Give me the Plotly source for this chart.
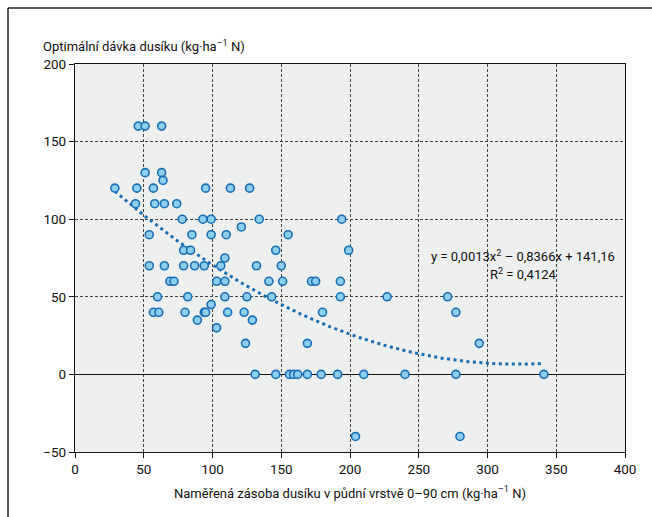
import numpy as np
import plotly.graph_objects as go

# Measured N supply (kg/ha) and optimal N dose (kg/ha)
supply = [46, 51, 63,
          51, 63, 64,
          29, 45, 57, 95, 113, 127,
          44, 58, 65, 74,
          78, 93, 99, 134, 194,
          121,
          54, 85, 99, 110, 155,
          79, 84, 146, 199,
          109,
          54, 65, 79, 87, 94, 106, 132, 150,
          69, 72, 103, 109, 141, 151, 172, 175, 193,
          60, 82, 109, 125, 143, 193, 227, 271,
          99,
          57, 61, 80, 94, 95, 111, 123, 180, 277,
          89, 129,
          103,
          124, 169, 294,
          131, 146, 156, 159, 162, 169, 179, 191, 210, 240, 277, 341,
          204, 280]
dose = [160, 160, 160,
        130, 130, 125,
        120, 120, 120, 120, 120, 120,
        110, 110, 110, 110,
        100, 100, 100, 100, 100,
        95,
        90, 90, 90, 90, 90,
        80, 80, 80, 80,
        75,
        70, 70, 70, 70, 70, 70, 70, 70,
        60, 60, 60, 60, 60, 60, 60, 60, 60,
        50, 50, 50, 50, 50, 50, 50, 50,
        45,
        40, 40, 40, 40, 40, 40, 40, 40, 40,
        35, 35,
        30,
        20, 20, 20,
        0, 0, 0, 0, 0, 0, 0, 0, 0, 0, 0, 0,
        -40, -40]

# Trendline coefficients as printed on the chart: y = a x^2 + b x + c
trend_coef = [0.0013, -0.8366, 141.16]
trend_range = [min(supply), max(supply)]

x_ticks = [0, 50, 100, 150, 200, 250, 300, 350, 400]
y_ticks = [-50, 0, 50, 100, 150, 200]

tx = np.linspace(trend_range[0], trend_range[1], 200)
ty = trend_coef[0] * tx**2 + trend_coef[1] * tx + trend_coef[2]

FONT = "Roboto, Arial, sans-serif"
BLUE = "#1a6db5"

fig = go.Figure()
fig.add_trace(go.Scatter(
    x=tx, y=ty, mode="lines",
    line=dict(color=BLUE, width=3, dash="3px,3.5px"),
    hoverinfo="skip", showlegend=False))
fig.add_trace(go.Scatter(
    x=supply, y=dose, mode="markers",
    marker=dict(size=8, color="#8ccff0", line=dict(color=BLUE, width=1.6)),
    showlegend=False))

grid = dict(showgrid=True, gridcolor="#444444", gridwidth=1, griddash="3px,2px")

fig.update_layout(
    width=652, height=517,
    margin=dict(l=75, r=27, t=64, b=65),
    paper_bgcolor="white",
    plot_bgcolor="#eef0f0",
    font=dict(family=FONT, size=13, color="#111111"),
    xaxis=dict(range=[0, 400], tickvals=x_ticks, ticks="outside", ticklen=5,
               tickcolor="#111", showline=True, linecolor="#111", linewidth=1.2,
               mirror=True, zeroline=False, tickfont=dict(size=13.5),
               title=dict(text="Naměřená zásoba dusíku v půdní vrstvě 0–90 cm (kg·ha<sup>–1</sup> N)",
                          font=dict(size=13), standoff=12),
               **grid),
    yaxis=dict(range=[-50, 200], tickvals=y_ticks, ticks="outside", ticklen=5,
               tickcolor="#111", showline=True, linecolor="#111", linewidth=1.2,
               mirror=True, zeroline=True, zerolinecolor="#111", zerolinewidth=1.3,
               tickfont=dict(size=13.5),
               **grid),
    annotations=[
        dict(text="Optimální dávka dusíku (kg·ha<sup>–1</sup> N)", xref="paper", yref="paper",
             x=-0.062, y=1.047, xanchor="left", yanchor="middle", showarrow=False,
             font=dict(size=13)),
        dict(text="y = 0,0013x<sup>2</sup> – 0,8366x + 141,16", x=326, y=76,
             xanchor="center", yanchor="middle", showarrow=False, font=dict(size=13)),
        dict(text="R<sup>2</sup> = 0,4124", x=326, y=64.5,
             xanchor="center", yanchor="middle", showarrow=False, font=dict(size=13)),
    ],
    shapes=[
        dict(type="line", xref="paper", yref="paper", x0=-0.1218, x1=1.06, y0=1.1443, y1=1.1443,
             line=dict(color="#222", width=1.5)),
        dict(type="line", xref="paper", yref="paper", x0=-0.1218, x1=-0.1218, y0=1.1443, y1=-0.2,
             line=dict(color="#222", width=1.5)),
    ],
)

fig.write_html("out.html")
